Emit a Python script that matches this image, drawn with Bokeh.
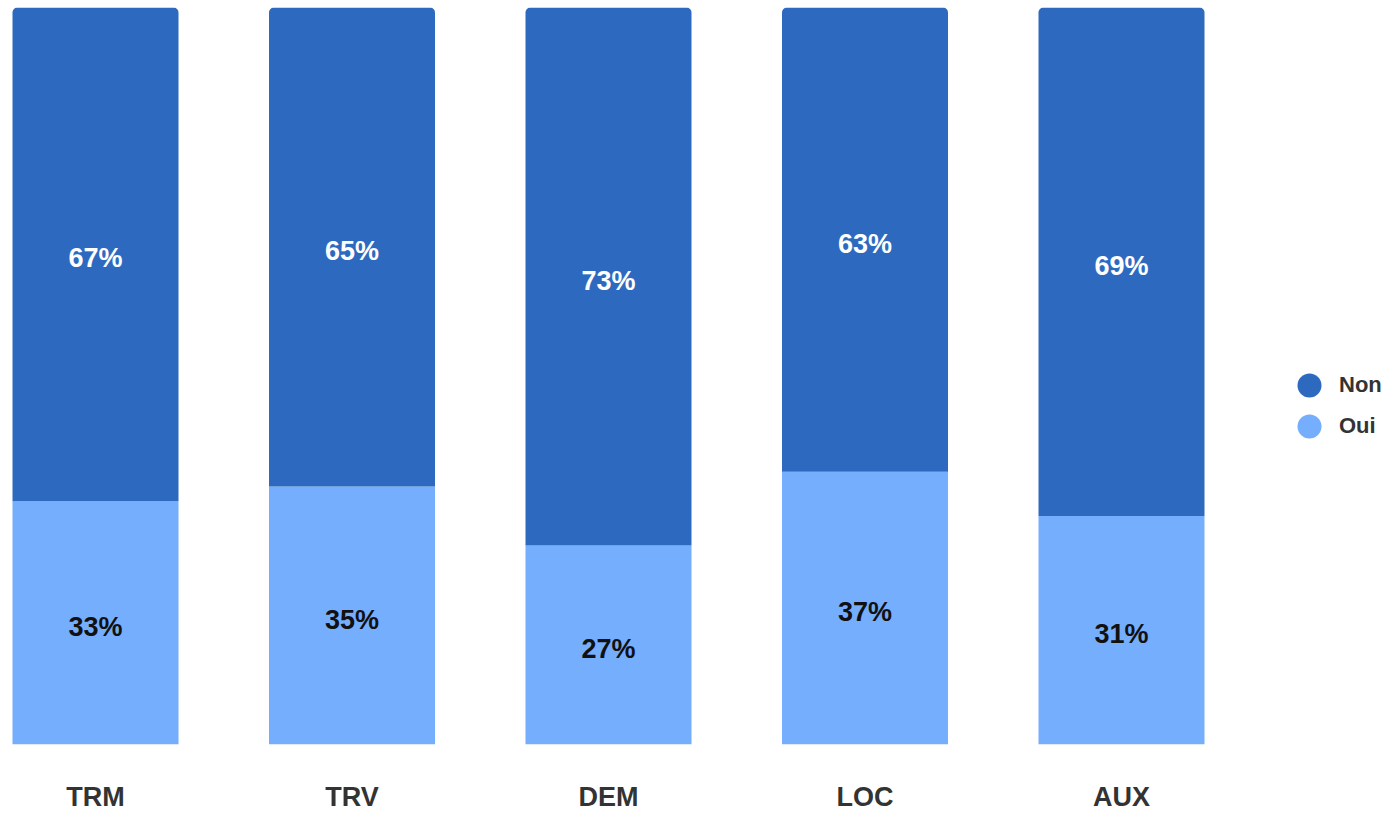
from bokeh.plotting import figure
from bokeh.models import ColumnDataSource, Range1d, FixedTicker, Legend, LegendItem
from bokeh.core.properties import value
from bokeh.embed import file_html
from bokeh.resources import INLINE

categories = ["TRM", "TRV", "DEM", "LOC", "AUX"]
oui = [33, 35, 27, 37, 31]
non = [67, 65, 73, 63, 69]
series_names = ["Non", "Oui"]

NON_COLOR = "#2d6abf"
OUI_COLOR = "#76aefe"
FONT = "Liberation Sans"

xs = list(range(len(categories)))
oui_top = [o / 100 for o in oui]
non_top = [(o + n) / 100 for o, n in zip(oui, non)]
src = ColumnDataSource(dict(
    x=xs,
    oui_bottom=[0] * len(xs),
    oui_top=oui_top,
    non_bottom=oui_top,
    non_top=non_top,
    oui_mid=[t / 2 for t in oui_top],
    non_mid=[(b + t) / 2 for b, t in zip(oui_top, non_top)],
    oui_lbl=[f"{v}%" for v in oui],
    non_lbl=[f"{v}%" for v in non],
))

W, H = 1388, 815
px_per_cat = 256.5
x0 = -95 / px_per_cat
p = figure(width=W, height=H, output_backend="svg", toolbar_location=None,
           x_range=Range1d(x0, x0 + W / px_per_cat), y_range=Range1d(0, 1.0),
           min_border_left=0, min_border_right=0, min_border_top=7, min_border_bottom=71)
p.outline_line_color = None
p.grid.visible = False
p.yaxis.visible = False
p.background_fill_color = "white"
p.border_fill_color = "white"

bw = 166 / px_per_cat
p.vbar(x="x", width=bw, bottom="oui_bottom", top="oui_top", source=src,
       fill_color=OUI_COLOR, line_color=None)
p.vbar(x="x", width=bw, bottom="non_bottom", top="non_top", source=src,
       fill_color=NON_COLOR, line_color=None, border_radius=(5, 5, 0, 0))

p.text(x="x", y="non_mid", text="non_lbl", source=src, text_color="white",
       text_font=value(FONT), text_font_style="bold", text_font_size="27px",
       text_align="center", text_baseline="middle", y_offset=4)
p.text(x="x", y="oui_mid", text="oui_lbl", source=src, text_color="#111111",
       text_font=value(FONT), text_font_style="bold", text_font_size="27px",
       text_align="center", text_baseline="middle", y_offset=4)

ax = p.xaxis[0]
ax.ticker = FixedTicker(ticks=xs)
ax.major_label_overrides = {i: c for i, c in zip(xs, categories)}
ax.axis_line_color = None
ax.major_tick_line_color = None
ax.minor_tick_line_color = None
ax.major_tick_in = 0
ax.major_tick_out = 0
ax.major_label_standoff = 37
ax.major_label_text_font = FONT
ax.major_label_text_font_style = "bold"
ax.major_label_text_font_size = "27px"
ax.major_label_text_color = "#333333"

nan = float("nan")
r_non = p.scatter(x=[nan], y=[nan], marker="circle", size=24, fill_color=NON_COLOR, line_color=None)
r_oui = p.scatter(x=[nan], y=[nan], marker="circle", size=24, fill_color=OUI_COLOR, line_color=None)

def make_legend(label, renderer, loc):
    return Legend(items=[LegendItem(label=label, renderers=[renderer])],
                  location=loc, orientation="vertical",
                  glyph_width=60, glyph_height=60, label_standoff=0,
                  padding=0, margin=0, border_line_color=None, background_fill_alpha=0,
                  label_text_font=FONT, label_text_font_style="bold",
                  label_text_font_size="22px", label_text_color="#333333",
                  label_height=20)

p.add_layout(make_legend(series_names[0], r_non, (1279, 329)), "center")
p.add_layout(make_legend(series_names[1], r_oui, (1279, 288)), "center")

open("out.html", "w").write(file_html(p, INLINE))
